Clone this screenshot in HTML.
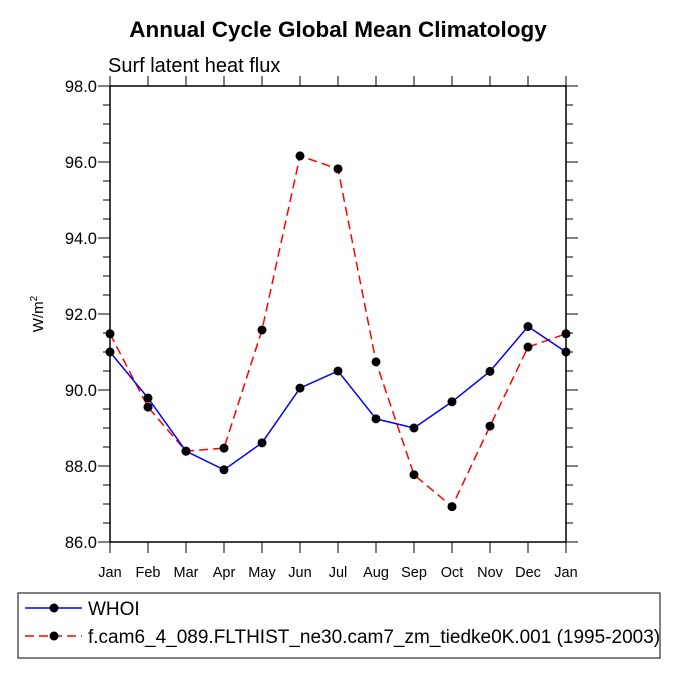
<!DOCTYPE html>
<html><head><meta charset="utf-8"><style>
body{margin:0;background:#fff}
svg text{font-family:"Liberation Sans",Arial,sans-serif;fill:#000}
</style></head><body>
<svg id="chart" width="675" height="675" viewBox="0 0 675 675">
<text x="338" y="37" text-anchor="middle" font-size="22.5" font-weight="bold">Annual Cycle Global Mean Climatology</text>
<text x="108" y="72" font-size="20">Surf latent heat flux</text>
<text transform="translate(43,314) rotate(-90)" text-anchor="middle" font-size="15">W/m<tspan font-size="10" dy="-6">2</tspan></text>
<g id="axes"></g>
<g id="series"></g>
<rect x="18" y="593" width="642" height="65" fill="none" stroke="#000" stroke-width="1"/>
<g>
<line x1="25" y1="608" x2="82" y2="608" stroke="#0000ff" stroke-width="1.5"/>
<circle cx="54" cy="608" r="4.5" fill="#000"/>
<text x="88" y="615" font-size="19">WHOI</text>
</g>
<g>
<line x1="25" y1="636" x2="82" y2="636" stroke="#ff0000" stroke-width="1.5" stroke-dasharray="9,5"/>
<circle cx="54" cy="636" r="4.5" fill="#000"/>
<text x="88" y="643" font-size="19">f.cam6_4_089.FLTHIST_ne30.cam7_zm_tiedke0K.001 (1995-2003)</text>
</g>
</svg>
<script>
const months = ["Jan","Feb","Mar","Apr","May","Jun","Jul","Aug","Sep","Oct","Nov","Dec","Jan"];
const whoiValues = [91.0,89.79,88.39,87.90,88.61,90.05,90.5,89.24,89.0,89.69,90.49,91.67,91.0];
const modelValues = [91.48,89.55,88.39,88.47,91.58,96.16,95.82,90.74,87.77,86.93,89.05,91.13,91.48];
const yTicks = [86,88,90,92,94,96,98];
const yTickLabels = ["86.0","88.0","90.0","92.0","94.0","96.0","98.0"];

const X0=110,X1=566,Y0=542,Y1=86,YMIN=86,YMAX=98;
const xs=i=>X0+i*(X1-X0)/(months.length-1);
const ys=v=>Y0-(v-YMIN)*(Y0-Y1)/(YMAX-YMIN);
const NS="http://www.w3.org/2000/svg";
function mk(tag,attrs,parent){const e=document.createElementNS(NS,tag);for(const k in attrs)e.setAttribute(k,attrs[k]);parent.appendChild(e);return e;}
const axes=document.getElementById('axes');
const frame=mk('rect',{x:X0,y:Y1,width:X1-X0,height:Y0-Y1,fill:'none',stroke:'#000','stroke-width':1.5},axes);


for(let v=YMIN;v<=YMAX+1e-9;v+=0.5){
  const major=Math.abs(v/2-Math.round(v/2))<1e-9;
  const L=major?12:7,y=ys(v);
  mk('line',{x1:X0-L,y1:y,x2:X0,y2:y,stroke:'#000','stroke-width':1},axes);
  mk('line',{x1:X1,y1:y,x2:X1+L,y2:y,stroke:'#000','stroke-width':1},axes);
}
yTicks.forEach((v,i)=>{
  const t=mk('text',{x:X0-13,y:ys(v)+6,'text-anchor':'end','font-size':16.5},axes);
  t.textContent=yTickLabels[i];
  
  
});
months.forEach((m,i)=>{
  const x=xs(i);
  mk('line',{x1:x,y1:Y0,x2:x,y2:Y0+11,stroke:'#000','stroke-width':1},axes);
  mk('line',{x1:x,y1:Y1-10,x2:x,y2:Y1,stroke:'#000','stroke-width':1},axes);
  const t=mk('text',{x:x,y:Y0+35,'text-anchor':'middle','font-size':14.5},axes);
  t.textContent=m;
  
  
});
const ser=document.getElementById('series');
function drawSeries(vals,color,dash,name){
  const g=mk('g',{},ser);
  
  
  const pts=vals.map((v,i)=>xs(i)+','+ys(v)).join(' ');
  const pl=mk('polyline',{points:pts,fill:'none',stroke:color,'stroke-width':1.5,'stroke-dasharray':dash},g);
  
  
  vals.forEach((v,i)=>{
    const c=mk('circle',{cx:xs(i),cy:ys(v),r:4.5,fill:'#000'},g);
    
    
  });
}
drawSeries(modelValues,'#ff0000','9,5','model-series');
drawSeries(whoiValues,'#0000ff','none','whoi-series');
</script>
</body></html>
